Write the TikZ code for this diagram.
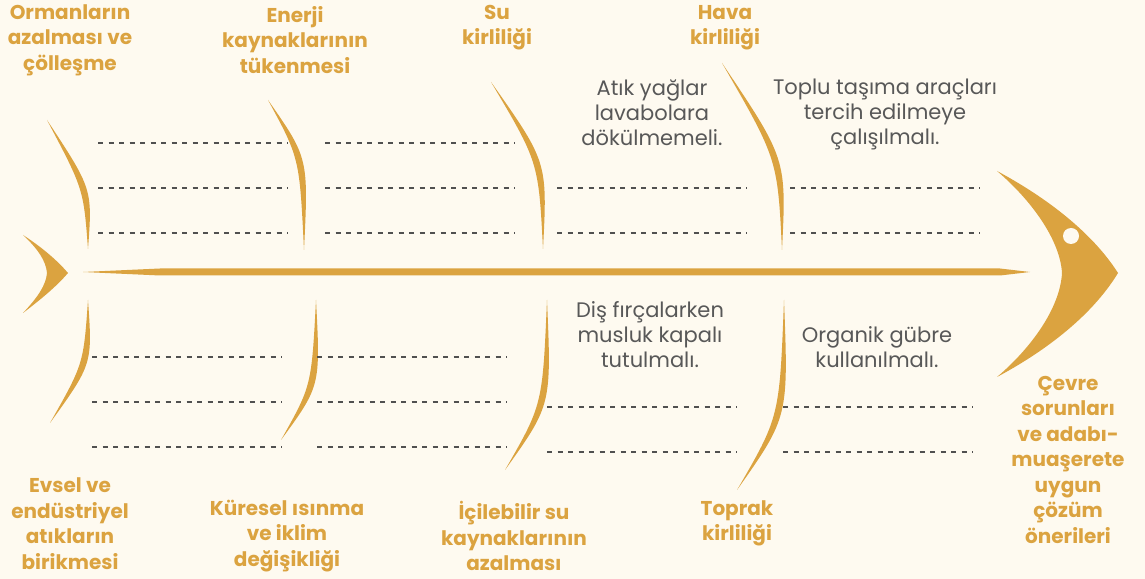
\documentclass[tikz,border=0pt]{standalone}
\usepackage{fontspec}
\setmainfont{Poppins}
\definecolor{bgcol}{RGB}{254,250,240}
\definecolor{goldcol}{RGB}{219,163,64}
\definecolor{textcol}{RGB}{88,88,88}
\definecolor{dashcol}{RGB}{80,80,80}
\tikzset{
  rib/.style={fill=goldcol},
  cause/.style={text=goldcol,align=center,font=\fontsize{20bp}{25.5bp}\selectfont\bfseries},
  idea/.style={text=textcol,align=center,font=\fontsize{21bp}{25bp}\selectfont},
  blank/.style={draw=dashcol,line width=1.3bp,dash pattern=on 5bp off 5.5bp},
}
\begin{document}
\begin{tikzpicture}[line join=bevel,]
  \fill[bgcol] (0bp,0bp) rectangle (1145bp,579bp);
  \useasboundingbox (0bp,0bp) rectangle (1145bp,579bp);
%%
  % Spine
  \fill[goldcol] (83bp,307bp) -- (160bp,310.5bp) -- (1000bp,310.5bp) -- (1030bp,307bp)
    -- (1000bp,303.5bp) -- (160bp,303.5bp) -- cycle;
  % Tail
  \fill[goldcol] (23bp,344bp) .. controls (40bp,333bp) and (56bp,320bp) .. (68bp,306bp)
    .. controls (56bp,292bp) and (40bp,279bp) .. (23bp,266bp)
    .. controls (38bp,282bp) and (46bp,294bp) .. (47bp,306bp)
    .. controls (46bp,318bp) and (38bp,330bp) .. cycle;
  % Head
  \fill[goldcol] (997bp,408bp) .. controls (1040bp,385bp) and (1090bp,350bp) .. (1118bp,306bp)
    .. controls (1090bp,260bp) and (1040bp,225bp) .. (997bp,202bp)
    .. controls (1030bp,230bp) and (1060bp,270bp) .. (1062bp,306bp)
    .. controls (1060bp,340bp) and (1030bp,380bp) .. cycle;
  \fill[bgcol] (1071bp,343bp) circle (8bp);
  % Rib: upper 1
  \fill[rib] (47bp,459bp) .. controls (92.5bp,390bp) .. (88bp,330bp) .. controls (83.5bp,390bp) .. cycle;
  % Rib: upper 2
  \fill[rib] (268bp,479bp) .. controls (308.5bp,421bp) .. (304bp,329bp) .. controls (299.5bp,421bp) .. cycle;
  % Rib: upper 3
  \fill[rib] (491bp,497bp) .. controls (547.5bp,417bp) .. (543bp,330bp) .. controls (538.5bp,417bp) .. cycle;
  % Rib: upper 4
  \fill[rib] (722bp,516bp) .. controls (786.5bp,420bp) .. (782bp,329bp) .. controls (777.5bp,420bp) .. cycle;
  % Rib: lower 1
  \fill[rib] (88bp,279bp) .. controls (92.5bp,215bp) .. (50bp,156bp) .. controls (83.5bp,215bp) .. cycle;
  % Rib: lower 2
  \fill[rib] (316bp,279bp) .. controls (320.5bp,193bp) .. (281bp,139bp) .. controls (311.5bp,193bp) .. cycle;
  % Rib: lower 3
  \fill[rib] (547bp,279bp) .. controls (551.5bp,174bp) .. (505bp,109bp) .. controls (542.5bp,174bp) .. cycle;
  % Rib: lower 4
  \fill[rib] (784bp,279bp) .. controls (788.5bp,162bp) .. (737bp,89bp) .. controls (779.5bp,162bp) .. cycle;
  % Blanks: upper
  \draw[blank] (98bp,436bp) -- (288bp,436bp);
  \draw[blank] (98bp,391bp) -- (288bp,391bp);
  \draw[blank] (98bp,346bp) -- (288bp,346bp);
  \draw[blank] (325bp,436bp) -- (515bp,436bp);
  \draw[blank] (325bp,391bp) -- (515bp,391bp);
  \draw[blank] (325bp,346bp) -- (515bp,346bp);
  \draw[blank] (557bp,391bp) -- (747bp,391bp);
  \draw[blank] (557bp,346bp) -- (747bp,346bp);
  \draw[blank] (790bp,391bp) -- (980bp,391bp);
  \draw[blank] (790bp,346bp) -- (980bp,346bp);
  % Blanks: lower
  \draw[blank] (92bp,222bp) -- (282bp,222bp);
  \draw[blank] (92bp,177bp) -- (282bp,177bp);
  \draw[blank] (92bp,132bp) -- (282bp,132bp);
  \draw[blank] (317bp,222bp) -- (507bp,222bp);
  \draw[blank] (317bp,177bp) -- (507bp,177bp);
  \draw[blank] (317bp,132bp) -- (507bp,132bp);
  \draw[blank] (547bp,172bp) -- (737bp,172bp);
  \draw[blank] (547bp,127bp) -- (737bp,127bp);
  \draw[blank] (783bp,172bp) -- (973bp,172bp);
  \draw[blank] (783bp,127bp) -- (973bp,127bp);
  % Node: Orman
  \node[cause] (orman) at (70bp,539bp) {Ormanların\\azalması ve\\çölleşme};
  % Node: Enerji
  \node[cause] (enerji) at (295bp,539bp) {Enerji\\kaynaklarının\\tükenmesi};
  % Node: Su
  \node[cause] (su) at (497bp,551.5bp) {Su\\kirliliği};
  % Node: Hava
  \node[cause] (hava) at (725bp,551.5bp) {Hava\\kirliliği};
  % Node: Evsel
  \node[cause] (evsel) at (70bp,55.5bp) {Evsel ve\\endüstriyel\\atıkların\\birikmesi};
  % Node: Kuresel
  \node[cause] (kuresel) at (287bp,43bp) {Küresel ısınma\\ve iklim\\değişikliği};
  % Node: Icilebilir
  \node[cause] (icilebilir) at (514bp,43bp) {İçilebilir su\\kaynaklarının\\azalması};
  % Node: Toprak
  \node[cause] (toprak) at (737bp,55.5bp) {Toprak\\kirliliği};
  % Node: Cevre
  \node[cause] (cevre) at (1068bp,119.5bp) {Çevre\\sorunları\\ve adabı-\\muaşerete\\uygun\\çözüm\\önerileri};
  % Node: Atik
  \node[idea] (atik) at (652bp,466bp) {Atık yağlar\\lavabolara\\dökülmemeli.};
  % Node: Toplu
  \node[idea] (toplu) at (885bp,465bp) {Toplu taşıma araçları\\tercih edilmeye\\çalışılmalı.};
  % Node: Dis
  \node[idea] (dis) at (650bp,244bp) {Diş fırçalarken\\musluk kapalı\\tutulmalı.};
  % Node: Organik
  \node[idea] (organik) at (877bp,231.5bp) {Organik gübre\\kullanılmalı.};
%
\end{tikzpicture}
\end{document}
